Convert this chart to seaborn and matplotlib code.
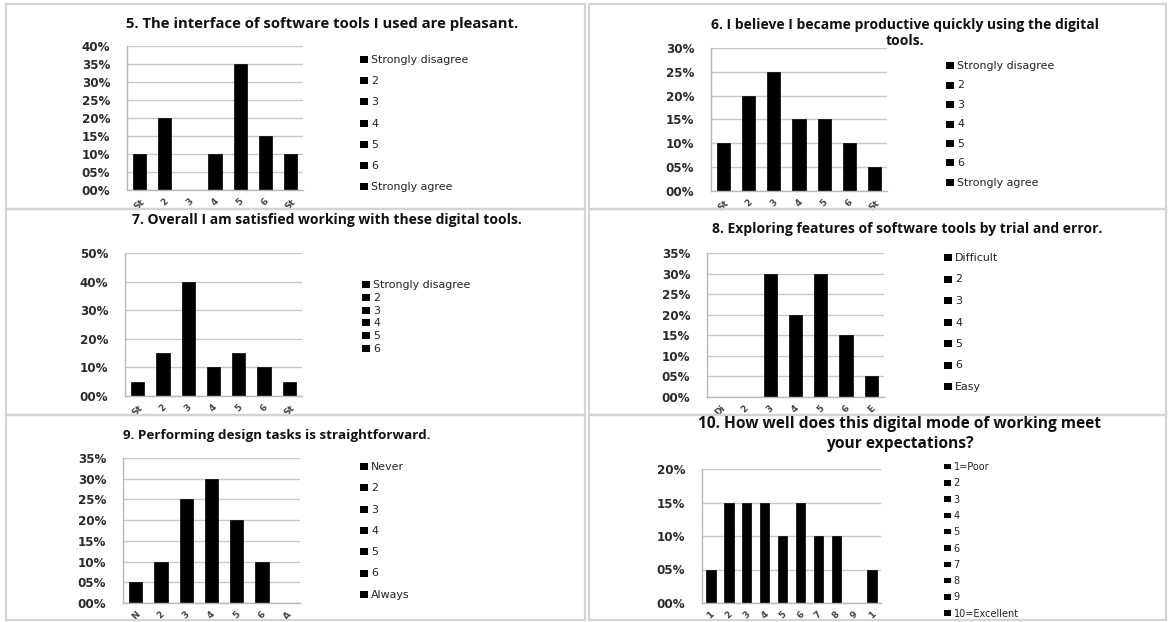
import matplotlib
matplotlib.use("Agg")
import matplotlib.pyplot as plt
import seaborn as sns
from matplotlib.patches import Rectangle

sns.set_theme(style="white")
plt.rcParams["font.family"] = ["Open Sans", "DejaVu Sans"]

# ---- survey data (share of respondents) ----
q5_title = "5. The interface of software tools I used are pleasant."
q5_cats = ["Strongly disagree", "2", "3", "4", "5", "6", "Strongly agree"]
q5_ticks = ["St", "2", "3", "4", "5", "6", "St"]
q5_vals = [0.10, 0.20, 0.00, 0.10, 0.35, 0.15, 0.10]

q6_title = "6. I believe I became productive quickly using the digital\ntools."
q6_cats = ["Strongly disagree", "2", "3", "4", "5", "6", "Strongly agree"]
q6_ticks = ["St", "2", "3", "4", "5", "6", "St"]
q6_vals = [0.10, 0.20, 0.25, 0.15, 0.15, 0.10, 0.05]

q7_title = "7. Overall I am satisfied working with these digital tools."
q7_cats = ["Strongly disagree", "2", "3", "4", "5", "6", "Strongly agree"]
q7_legend = ["Strongly disagree", "2", "3", "4", "5", "6"]
q7_ticks = ["St", "2", "3", "4", "5", "6", "St"]
q7_vals = [0.05, 0.15, 0.40, 0.10, 0.15, 0.10, 0.05]

q8_title = "8. Exploring features of software tools by trial and error."
q8_cats = ["Difficult", "2", "3", "4", "5", "6", "Easy"]
q8_ticks = ["Di", "2", "3", "4", "5", "6", "E"]
q8_vals = [0.00, 0.00, 0.30, 0.20, 0.30, 0.15, 0.05]

q9_title = "9. Performing design tasks is straightforward."
q9_cats = ["Never", "2", "3", "4", "5", "6", "Always"]
q9_ticks = ["N", "2", "3", "4", "5", "6", "A"]
q9_vals = [0.05, 0.10, 0.25, 0.30, 0.20, 0.10, 0.00]

q10_title = "10. How well does this digital mode of working meet\nyour expectations?"
q10_cats = ["1=Poor", "2", "3", "4", "5", "6", "7", "8", "9", "10=Excellent"]
q10_ticks = ["1", "2", "3", "4", "5", "6", "7", "8", "9", "1"]
q10_vals = [0.05, 0.15, 0.15, 0.15, 0.10, 0.15, 0.10, 0.10, 0.00, 0.05]

W, H = 1168, 622
fig = plt.figure(figsize=(W / 100, H / 100), dpi=100)
fig.patch.set_facecolor("white")


def fx(px):
    return px / W


def fy(py):
    return 1 - py / H


# panel frames
for (x0, y0, x1, y1) in [(6, 4, 585, 209), (589, 4, 1166, 209),
                         (6, 209, 585, 415), (589, 209, 1166, 415),
                         (6, 415, 585, 620), (589, 415, 1166, 620)]:
    fig.patches.append(Rectangle((fx(x0), fy(y1)), fx(x1 - x0), (y1 - y0) / H,
                                 transform=fig.transFigure, fill=False,
                                 edgecolor="#d4d4d4", linewidth=1.6, zorder=0))

panels = [
    dict(title=q5_title, cats=q5_cats, legend=q5_cats, ticks=q5_ticks, vals=q5_vals,
         box=(127, 46, 303, 190), ymax=0.40, step=0.05, tpos=(322, 24), tfs=10.7,
         leg=(360, 60, 21.2, 7.9)),
    dict(title=q6_title, cats=q6_cats, legend=q6_cats, ticks=q6_ticks, vals=q6_vals,
         box=(711, 48, 887, 191), ymax=0.30, step=0.05, tpos=(905, 33), tfs=10,
         leg=(946, 66, 19.5, 7.9)),
    dict(title=q7_title, cats=q7_cats, legend=q7_legend, ticks=q7_ticks, vals=q7_vals,
         box=(125, 253, 302, 396), ymax=0.50, step=0.10, tpos=(327, 220), tfs=10,
         leg=(362, 285, 12.8, 7.9)),
    dict(title=q8_title, cats=q8_cats, legend=q8_cats, ticks=q8_ticks, vals=q8_vals,
         box=(707, 253, 884, 397), ymax=0.35, step=0.05, tpos=(907, 229), tfs=10,
         leg=(944, 258, 21.5, 7.9)),
    dict(title=q9_title, cats=q9_cats, legend=q9_cats, ticks=q9_ticks, vals=q9_vals,
         box=(123, 458, 300, 603), ymax=0.35, step=0.05, tpos=(277, 435), tfs=9.7,
         leg=(360, 467, 21.3, 7.9)),
    dict(title=q10_title, cats=q10_cats, legend=q10_cats, ticks=q10_ticks, vals=q10_vals,
         box=(702, 469, 881, 603), ymax=0.20, step=0.05, tpos=(900, 434), tfs=11.2,
         leg=(944, 467, 16.3, 7.0)),
]

for p in panels:
    x0, y0, x1, y1 = p["box"]
    ax = fig.add_axes([fx(x0), fy(y1), fx(x1 - x0), (y1 - y0) / H])
    n = len(p["cats"])
    sns.barplot(x=p["cats"], y=p["vals"], order=p["cats"], color="black",
                saturation=1, width=0.52, ax=ax, edgecolor="black", linewidth=0.5)
    ax.set_xlim(-0.5, n - 0.5)
    ax.set_ylim(0, p["ymax"])
    yt = [round(i * p["step"], 2) for i in range(int(round(p["ymax"] / p["step"])) + 1)]
    ax.set_yticks(yt)
    ax.set_yticklabels([f"{v * 100:02.0f}%" for v in yt], fontsize=8.6,
                       fontweight="bold", color="#2a2a2a", family="DejaVu Sans")
    ax.yaxis.grid(True, color="#c8c8c8", linewidth=1.0)
    ax.set_axisbelow(True)
    ax.tick_params(axis="y", length=0, pad=12)
    # category labels between boundary ticks
    ax.set_xticks(range(n))
    ax.set_xticklabels(p["ticks"], rotation=45, fontsize=6.5, color="#444444",
                       ha="center", va="top", family="DejaVu Sans", fontweight="bold")
    ax.set_xticks([i - 0.5 for i in range(n + 1)], minor=True)
    ax.tick_params(axis="x", which="major", length=0, pad=5)
    ax.tick_params(axis="x", which="minor", length=3, color="#b0b0b0",
                   direction="out", width=1)
    for side in ("top", "right"):
        ax.spines[side].set_visible(False)
    for side in ("left", "bottom"):
        ax.spines[side].set_color("#b8b8b8")
        ax.spines[side].set_linewidth(1.0)
    ax.set_xlabel("")
    ax.set_ylabel("")

    tx, ty = p["tpos"]
    fig.text(fx(tx), fy(ty), p["title"], ha="center", va="center",
             fontsize=p["tfs"], fontweight="bold", color="#111111", linespacing=1.25)

    lx, ly, dy, fs = p["leg"]
    sq = 7 if fs > 7 else 5.5
    for i, lab in enumerate(p["legend"]):
        cy = ly + i * dy
        fig.patches.append(Rectangle((fx(lx), fy(cy + sq / 2 - 0.5)), fx(sq + 1), sq / H,
                                     transform=fig.transFigure, facecolor="black",
                                     edgecolor="black", linewidth=0))
        fig.text(fx(lx + sq + 4), fy(cy), lab, ha="left", va="center",
                 fontsize=fs, color="#222222", family="DejaVu Sans")

fig.savefig("out.png", dpi=100, facecolor="white")
